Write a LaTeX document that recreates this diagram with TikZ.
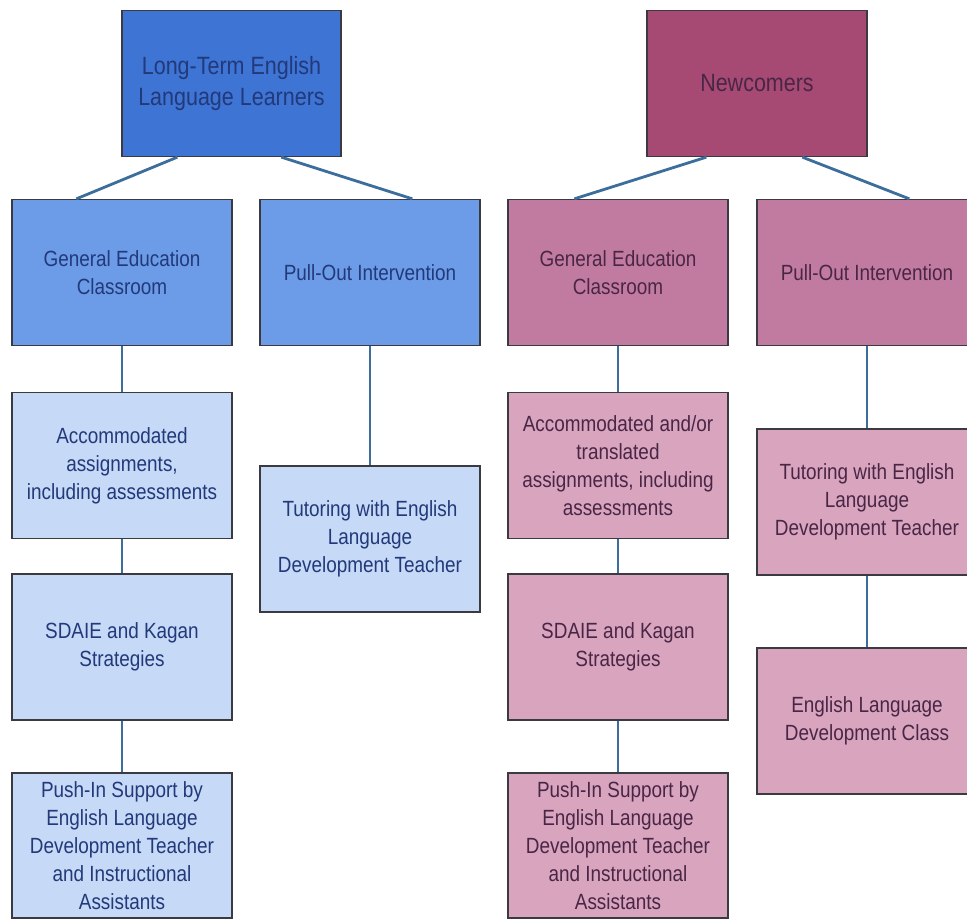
\documentclass[tikz,border=0pt]{standalone}
\usepackage{fontspec}
\setmainfont{Liberation Sans}[FakeStretch=0.86]
\definecolor{ltopc}{HTML}{3E74D4}
\definecolor{lmidc}{HTML}{6C9CE8}
\definecolor{llightc}{HTML}{C6D9F6}
\definecolor{rtopc}{HTML}{A64A74}
\definecolor{rmidc}{HTML}{C27BA0}
\definecolor{rlightc}{HTML}{D8A4BE}
\definecolor{boxline}{HTML}{3A3A40}
\definecolor{linkc}{HTML}{3C6E9C}
\definecolor{btext}{HTML}{22397A}
\definecolor{ptext}{HTML}{4A2646}
\begin{document}
\begin{tikzpicture}[x=1pt,y=-1pt,
  box/.style={draw=boxline, line width=1.3pt, minimum width=220pt, minimum height=146pt,
    inner sep=0pt, align=center, font=\fontsize{22}{28}\selectfont},
  bluetop/.style={box, fill=ltopc, text=btext, font=\fontsize{25}{31}\selectfont},
  bluemid/.style={box, fill=lmidc, text=btext},
  bluelight/.style={box, fill=llightc, text=btext},
  pinktop/.style={box, fill=rtopc, text=ptext, font=\fontsize{25}{31}\selectfont},
  pinkmid/.style={box, fill=rmidc, text=ptext},
  pinklight/.style={box, fill=rlightc, text=ptext},
  link/.style={draw=linkc, line width=2.8pt}]
\clip (0,0) rectangle (967,919);
\fill[white] (0,0) rectangle (967,919);
% left tree
\node[bluetop, minimum width=219pt] (ltop) at (231.5,83.5) {Long-Term English\\Language Learners};
\node[bluemid] (lgec) at (122,272.5) {General Education\\Classroom};
\node[bluemid] (lpo) at (370,272.5) {Pull-Out Intervention};
\node[bluelight] (lacc) at (122,465.5) {Accommodated\\assignments,\\including assessments};
\node[bluelight] (lsd) at (122,647) {SDAIE and Kagan\\Strategies};
\node[bluelight, minimum height=145pt] (lpush) at (122,845.5) {Push-In Support by\\English Language\\Development Teacher\\and Instructional\\Assistants};
\node[bluelight] (ltut) at (370,539) {Tutoring with English\\Language\\Development Teacher};
% right tree
\node[pinktop] (rtop) at (757,83.5) {Newcomers};
\node[pinkmid] (rgec) at (618,272.5) {General Education\\Classroom};
\node[pinkmid] (rpo) at (867,272.5) {Pull-Out Intervention};
\node[pinklight] (racc) at (618,465.5) {Accommodated and/or\\translated\\assignments, including\\assessments};
\node[pinklight] (rsd) at (618,647) {SDAIE and Kagan\\Strategies};
\node[pinklight, minimum height=145pt] (rpush) at (618,845.5) {Push-In Support by\\English Language\\Development Teacher\\and Instructional\\Assistants};
\node[pinklight] (rtut) at (867,502) {Tutoring with English\\Language\\Development Teacher};
\node[pinklight] (reld) at (867,721) {English Language\\Development Class};
% connectors
\draw[link] ([xshift=56pt]ltop.south west) -- ([xshift=65pt]lgec.north west);
\draw[link] ([xshift=160pt]ltop.south west) -- ([xshift=153pt]lpo.north west);
\draw[link] (lgec) -- (lacc);
\draw[link] (lacc) -- (lsd);
\draw[link] (lsd) -- (lpush);
\draw[link] (lpo) -- (ltut);
\draw[link] ([xshift=60pt]rtop.south west) -- ([xshift=67pt]rgec.north west);
\draw[link] ([xshift=156pt]rtop.south west) -- ([xshift=153pt]rpo.north west);
\draw[link] (rgec) -- (racc);
\draw[link] (racc) -- (rsd);
\draw[link] (rsd) -- (rpush);
\draw[link] (rpo) -- (rtut);
\draw[link] (rtut) -- (reld);
\end{tikzpicture}
\end{document}
